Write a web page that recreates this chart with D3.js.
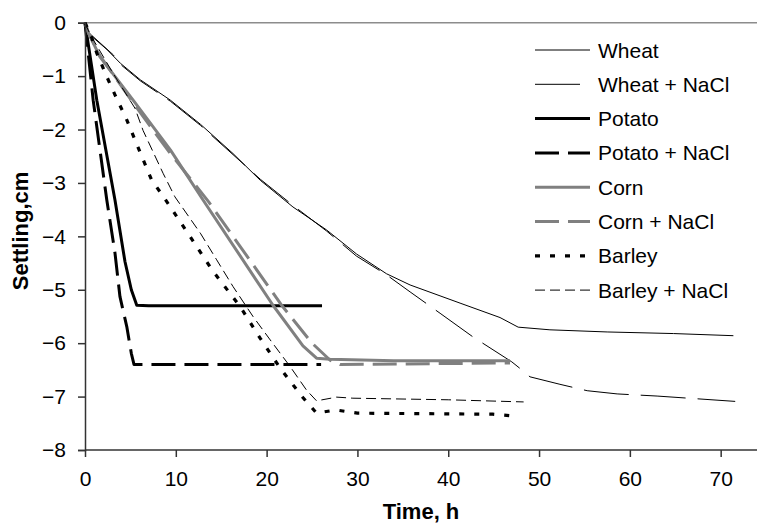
<!DOCTYPE html>
<html>
<head>
<meta charset="utf-8">
<script src="https://cdn.jsdelivr.net/npm/d3@7"></script>
<style>
  html, body { margin: 0; padding: 0; background: #fff; }
  svg { display: block; font-family: "Liberation Sans", Arial, sans-serif; }
</style>
</head>
<body>
<svg id="chart" width="757" height="525"></svg>
<script>
// Settling of starch suspensions over time, [hours, cm]
const wheat = [[0,0],[0.5,-0.22],[2.4,-0.5],[3.9,-0.76],[6.1,-1.07],[9.4,-1.45],[12.7,-1.9],[16.3,-2.45],[19.3,-2.95],[22.9,-3.45],[26.6,-3.88],[29.9,-4.33],[33.2,-4.7],[35.8,-4.91],[41.3,-5.25],[45.7,-5.52],[47.7,-5.7],[51.2,-5.75],[57.5,-5.79],[64.8,-5.82],[71.4,-5.86]];
const wheatNaCl = [[0,0],[0.5,-0.2],[3.1,-0.6],[3.9,-0.78],[6.1,-1.09],[9.4,-1.47],[12.7,-1.92],[16.3,-2.47],[19.3,-2.93],[22.9,-3.42],[26.6,-3.9],[29.9,-4.37],[33.2,-4.72],[35.8,-5.04],[39.1,-5.44],[42.7,-5.88],[47.0,-6.35],[48.1,-6.5],[49.0,-6.63],[52.3,-6.77],[55.3,-6.89],[58.6,-6.95],[63.0,-6.99],[71.6,-7.09]];
const potato = [[0,0],[1.3,-1.45],[3.3,-3.32],[4.4,-4.47],[5.1,-5.0],[5.7,-5.29],[7,-5.3],[26.1,-5.3]];
const potatoNaCl = [[0,0],[0.9,-1.45],[2.4,-3.32],[3.3,-4.31],[3.85,-5.13],[4.6,-5.69],[5.1,-6.19],[5.4,-6.4],[26,-6.4]];
const corn = [[0,0],[0.4,-0.2],[1.65,-0.64],[5.3,-1.45],[9.4,-2.38],[13,-3.32],[20.7,-5.29],[24,-6.05],[25.5,-6.28],[27,-6.3],[34,-6.33],[46.8,-6.33]];
const cornNaCl = [[0,0],[0.4,-0.2],[1.65,-0.62],[5.3,-1.5],[9.4,-2.45],[13.6,-3.35],[21.7,-5.3],[25,-6.0],[27,-6.32],[28.1,-6.4],[46.8,-6.37]];
const barley = [[0,0],[0.7,-0.26],[1.3,-0.57],[2.4,-1.01],[3.3,-1.35],[4.6,-1.82],[6.1,-2.44],[7.35,-2.95],[8.4,-3.2],[9.4,-3.45],[11.6,-4.01],[14,-4.63],[17.1,-5.32],[19.3,-5.91],[21.5,-6.47],[23.9,-7.0],[25.5,-7.31],[27.6,-7.25],[30,-7.31],[44.9,-7.33],[47,-7.36]];
const barleyNaCl = [[0,0],[0.5,-0.2],[3.1,-0.95],[5.5,-1.6],[6.4,-2.02],[8.6,-2.82],[9.9,-3.26],[12.7,-3.94],[14.5,-4.44],[16.3,-4.94],[18.5,-5.5],[20.4,-5.94],[22.6,-6.44],[24.4,-6.88],[25.5,-7.08],[27.7,-7.01],[29.5,-7.03],[40,-7.06],[48.3,-7.1]];

const seriesNames = ["Wheat", "Wheat + NaCl", "Potato", "Potato + NaCl", "Corn", "Corn + NaCl", "Barley", "Barley + NaCl"];
const seriesData = [wheat, wheatNaCl, potato, potatoNaCl, corn, cornNaCl, barley, barleyNaCl];
const xTicks = [0, 10, 20, 30, 40, 50, 60, 70];
const yTicks = [0, -1, -2, -3, -4, -5, -6, -7, -8];

// stroke styles per series
const styles = [
  { color: "#000", width: 1, dash: null },
  { color: "#000", width: 1, dash: "45,12" },
  { color: "#000", width: 3, dash: null },
  { color: "#000", width: 3, dash: "24,9" },
  { color: "#808080", width: 3, dash: null },
  { color: "#808080", width: 3, dash: "24,9" },
  { color: "#000", width: 3.2, dash: "5,10" },
  { color: "#000", width: 1, dash: "10,5" }
];

const svg = d3.select("#chart");
const x = d3.scaleLinear().domain([0, 74]).range([85, 757]);
const y = d3.scaleLinear().domain([-8, 0]).range([450, 22.7]);

// top border of the plot area
svg.append("line")
  .attr("x1", x(0)).attr("x2", 757)
  .attr("y1", y(0)).attr("y2", y(0))
  .attr("stroke", "#8c8c8c").attr("stroke-width", 1.5);

// series lines
const line = d3.line().x(d => x(d[0])).y(d => y(d[1]));
const gLines = svg.append("g");
seriesData.forEach((data, i) => {
  const s = styles[i];
  gLines.append("path")
    .datum(data)
    .attr("d", line)
    .attr("fill", "none")
    .attr("stroke", s.color)
    .attr("stroke-width", s.width)
    .attr("stroke-dasharray", s.dash)
    .attr("stroke-linejoin", "round");
});

// axes
const yAxis = svg.append("g")
  .attr("transform", `translate(${x(0)},0)`)
  .call(d3.axisLeft(y).tickValues(yTicks).tickSize(7).tickPadding(12).tickFormat(d3.format("d")));
const xAxis = svg.append("g")
  .attr("transform", `translate(0,${y(-8)})`)
  .call(d3.axisBottom(x).tickValues(xTicks).tickSize(7).tickPadding(14).tickFormat(d3.format("d")));
xAxis.select(".domain").attr("d", `M${x(0)},0H757`);
[xAxis, yAxis].forEach(a => {
  a.select(".domain").attr("stroke", "#333").attr("stroke-width", 1.5);
  a.selectAll(".tick line").attr("stroke", "#333").attr("stroke-width", 1.5);
  a.selectAll(".tick text").attr("fill", "#000").style("font-size", "21px")
    .style("font-family", "'Liberation Sans', Arial, sans-serif");
});

// axis titles
svg.append("text")
  .attr("x", (x(0) + 757) / 2).attr("y", 519)
  .attr("text-anchor", "middle")
  .style("font-size", "22px").style("font-weight", "bold")
  .text("Time, h");
svg.append("text")
  .attr("transform", "translate(28,231) rotate(-90)")
  .attr("text-anchor", "middle")
  .style("font-size", "22px").style("font-weight", "bold")
  .text("Settling,cm");

// legend
const legend = svg.append("g");
seriesNames.forEach((name, i) => {
  const s = styles[i];
  const cy = 50 + i * 34.3;
  legend.append("line")
    .attr("x1", 535).attr("x2", 590)
    .attr("y1", cy).attr("y2", cy)
    .attr("stroke", s.color)
    .attr("stroke-width", s.width)
    .attr("stroke-dasharray", s.dash);
  legend.append("text")
    .attr("x", 598).attr("y", cy + 7.5)
    .style("font-size", "21px")
    .text(name);
});
</script>
</body>
</html>
